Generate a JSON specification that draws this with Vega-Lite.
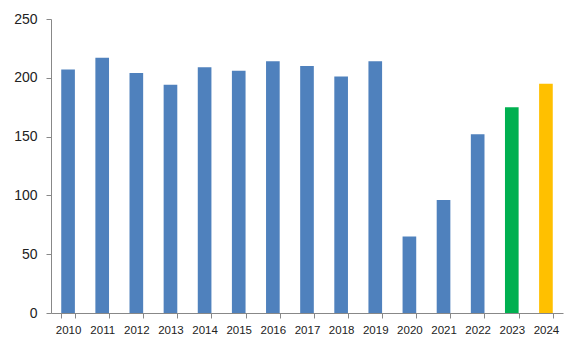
{
  "$schema": "https://vega.github.io/schema/vega-lite/v6.json",
  "width": 512,
  "height": 294,
  "autosize": {"type": "none"},
  "padding": {"left": 51, "top": 19, "right": 18, "bottom": 36},
  "background": "white",
  "config": {
    "view": {"stroke": null},
    "font": "Liberation Sans"
  },
  "data": {
    "values": [
      {"year": "2010", "value": 207, "group": "past"},
      {"year": "2011", "value": 217, "group": "past"},
      {"year": "2012", "value": 204, "group": "past"},
      {"year": "2013", "value": 194, "group": "past"},
      {"year": "2014", "value": 209, "group": "past"},
      {"year": "2015", "value": 206, "group": "past"},
      {"year": "2016", "value": 214, "group": "past"},
      {"year": "2017", "value": 210, "group": "past"},
      {"year": "2018", "value": 201, "group": "past"},
      {"year": "2019", "value": 214, "group": "past"},
      {"year": "2020", "value": 65, "group": "past"},
      {"year": "2021", "value": 96, "group": "past"},
      {"year": "2022", "value": 152, "group": "past"},
      {"year": "2023", "value": 175, "group": "y2023"},
      {"year": "2024", "value": 195, "group": "y2024"}
    ]
  },
  "mark": {"type": "bar"},
  "encoding": {
    "x": {
      "field": "year",
      "type": "ordinal",
      "sort": null,
      "scale": {"paddingInner": 0.6, "paddingOuter": 0.3},
      "axis": {
        "title": null,
        "labelAngle": 0,
        "tickBand": "extent",
        "tickSize": 5,
        "tickColor": "#888888",
        "domainColor": "#888888",
        "labelFontSize": 11.5,
        "labelColor": "#222222",
        "labelPadding": 6
      }
    },
    "y": {
      "field": "value",
      "type": "quantitative",
      "scale": {"domain": [0, 250], "nice": false},
      "axis": {
        "title": null,
        "values": [0, 50, 100, 150, 200, 250],
        "grid": false,
        "tickSize": 5,
        "tickColor": "#888888",
        "domainColor": "#888888",
        "labelFontSize": 14,
        "labelColor": "#222222",
        "labelPadding": 9
      }
    },
    "color": {
      "field": "group",
      "type": "nominal",
      "scale": {"domain": ["past", "y2023", "y2024"], "range": ["#4F81BD", "#00B050", "#FFC000"]},
      "legend": null
    }
  }
}
